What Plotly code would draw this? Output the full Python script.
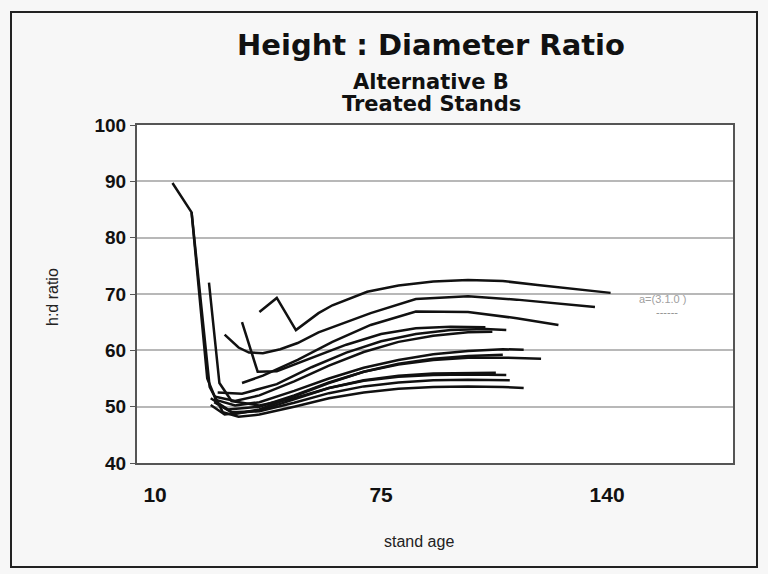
import plotly.graph_objects as go

# ---- data (stand age vs height:diameter ratio) ----
age_01 = [15, 20.5, 25.7, 29.5, 34, 40, 50, 60, 70, 80, 90, 100, 110, 116]
hd_01 = [89.7, 84.5, 53.5, 49, 48.2, 48.6, 50, 51.5, 52.5, 53.2, 53.5, 53.6, 53.5, 53.3]

age_02 = [25.5, 28.5, 32, 40, 50, 60, 70, 80, 90, 100, 111]
hd_02 = [72, 54.2, 51, 50.2, 51.5, 53.3, 54.6, 55.3, 55.6, 55.7, 55.6]

age_03 = [30, 34, 37, 41, 46, 51, 57, 61, 72, 85, 100, 114, 126, 136.5]
hd_03 = [62.8, 60.5, 59.6, 59.5, 60.2, 61.3, 63.2, 64.1, 66.6, 69.1, 69.6, 69, 68.3, 67.7]

age_04 = [35, 41, 51, 61, 72, 85, 100, 114, 126]
hd_04 = [54.2, 55.5, 58.3, 61.5, 64.5, 66.9, 66.8, 65.7, 64.5]

age_05 = [40, 45, 50.5, 57, 61, 65, 71, 80, 90, 100, 110, 120, 130, 141]
hd_05 = [66.8, 69.3, 63.6, 66.6, 68, 69, 70.4, 71.5, 72.2, 72.5, 72.3, 71.6, 70.9, 70.2]

age_06 = [35, 39.5, 45, 55, 65, 75, 85, 95, 105]
hd_06 = [65, 56.2, 56.3, 58.6, 61, 62.9, 63.9, 64.2, 64.1]

age_07 = [28, 35, 45, 55, 65, 75, 85, 95, 105, 111]
hd_07 = [52.5, 52.3, 54, 57, 59.6, 61.6, 62.9, 63.6, 63.8, 63.6]

age_08 = [27, 33, 40, 50, 60, 70, 80, 90, 100, 107]
hd_08 = [51.8, 51, 52, 54.5, 57.3, 59.7, 61.5, 62.6, 63.2, 63.3]

age_09 = [27, 33, 40, 50, 60, 70, 80, 90, 100, 110, 116]
hd_09 = [51.3, 50.2, 50.8, 52.8, 55, 56.9, 58.3, 59.3, 59.9, 60.2, 60.1]

age_10 = [26, 31, 40, 50, 60, 70, 80, 90, 100, 110, 121]
hd_10 = [51.5, 49.5, 50, 52, 54.3, 56.2, 57.5, 58.3, 58.7, 58.7, 58.5]

age_11 = [26, 30, 40, 50, 60, 70, 80, 90, 100, 108]
hd_11 = [50.3, 48.6, 49.3, 51.3, 53.3, 54.7, 55.5, 55.9, 56, 56]

age_12 = [27, 32, 40, 50, 60, 70, 80, 90, 100, 112]
hd_12 = [50.8, 49, 49.2, 50.7, 52.4, 53.6, 54.3, 54.7, 54.8, 54.7]

age_13 = [20.5, 25, 28, 33, 40, 50, 60, 70, 80, 90, 100, 110]
hd_13 = [84.5, 55, 50.5, 48.7, 49.5, 51.8, 54.2, 56.2, 57.6, 58.5, 59, 59.2]

x_ticks = [10, 75, 140]
y_ticks = [40, 50, 60, 70, 80, 90, 100]

stands = [
    (age_01, hd_01), (age_02, hd_02), (age_03, hd_03), (age_04, hd_04),
    (age_05, hd_05), (age_06, hd_06), (age_07, hd_07), (age_08, hd_08),
    (age_09, hd_09), (age_10, hd_10), (age_11, hd_11), (age_12, hd_12),
    (age_13, hd_13),
]

W, H = 768, 574
L, R, T, B = 137, 733, 125, 463


def px(x):
    return (x - L) / (R - L)


def py(y):
    return (B - y) / (B - T)


fig = go.Figure()
for a, h in stands:
    fig.add_trace(go.Scatter(x=a, y=h, mode="lines",
                             line=dict(color="#111111", width=2.5),
                             showlegend=False, hoverinfo="skip"))

FONT = "Liberation Sans, Arial, sans-serif"
WIDE = "DejaVu Sans, Liberation Sans, sans-serif"

fig.update_layout(
    width=W, height=H,
    margin=dict(l=L, r=W - R, t=T, b=H - B),
    paper_bgcolor="#f7f7f7",
    plot_bgcolor="#ffffff",
    font=dict(family=FONT, color="#111111"),
    showlegend=False,
)

fig.update_xaxes(
    range=[4.8, 176.2], tickvals=x_ticks, ticktext=[str(v) for v in x_ticks],
    tickfont=dict(family=FONT, size=21, color="#111111", weight="bold"),
    ticks="", ticklabelstandoff=12,
    showgrid=False, zeroline=False,
    showline=True, linecolor="#555555", linewidth=2, mirror=True,
)
fig.update_yaxes(
    range=[40, 100], tickvals=y_ticks,
    tickfont=dict(family=FONT, size=19, color="#111111", weight="bold"),
    ticks="outside", ticklen=5, tickcolor="#555555",
    showgrid=True, gridcolor="#b8b8b8", gridwidth=2,
    zeroline=False,
    showline=True, linecolor="#555555", linewidth=2, mirror=True,
)

texts = [
    ("<b>Height : Diameter Ratio</b>", 431, 45, 29, WIDE, "#111111", 0),
    ("<b>Alternative B</b>", 431, 82, 21, WIDE, "#111111", 0),
    ("<b>Treated Stands</b>", 431, 104, 21, WIDE, "#111111", 0),
    ("stand age", 419, 541, 16, FONT, "#222222", 0),
    ("h:d ratio", 52, 297, 16, FONT, "#222222", -90),
    ("a=(3.1.0 )", 662, 299, 11, FONT, "#a0a0a0", 0),
    ("------", 667, 312, 11, FONT, "#909090", 0),
]
for txt, x, y, sz, fam, col, ang in texts:
    fig.add_annotation(text=txt, x=px(x), y=py(y), xref="paper", yref="paper",
                       xanchor="center", yanchor="middle", showarrow=False, textangle=ang,
                       font=dict(family=fam, size=sz, color=col))

# outer frame
fig.add_shape(type="rect", xref="paper", yref="paper",
              x0=px(11), x1=px(757), y0=py(567), y1=py(12),
              line=dict(color="#222222", width=2), fillcolor="rgba(0,0,0,0)", layer="below")

fig.write_html("out.html")
